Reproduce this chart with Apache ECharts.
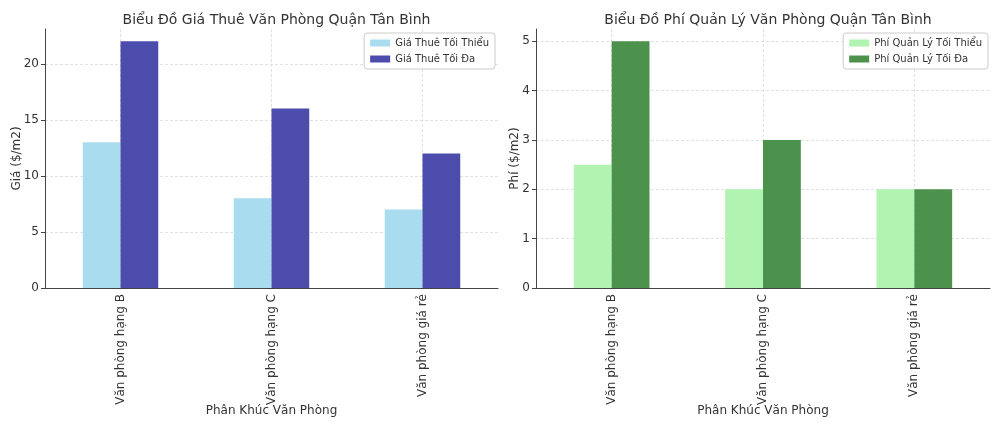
<!DOCTYPE html>
<html><head><meta charset="utf-8">
<script src="https://cdn.jsdelivr.net/npm/echarts@6/dist/echarts.min.js"></script>
<style>html,body{margin:0;padding:0;background:#fff}#c{width:1000px;height:429px}</style>
</head><body><div id="c"></div>
<script>
const categories = ['Văn phòng hạng B', 'Văn phòng hạng C', 'Văn phòng giá rẻ'];
const rentMin = [13, 8, 7];
const rentMax = [22, 16, 12];
const feeMin = [2.5, 2, 2];
const feeMax = [5, 3, 2];
const titles = ['Biểu Đồ Giá Thuê Văn Phòng Quận Tân Bình', 'Biểu Đồ Phí Quản Lý Văn Phòng Quận Tân Bình'];
const seriesNames = [['Giá Thuê Tối Thiểu', 'Giá Thuê Tối Đa'], ['Phí Quản Lý Tối Thiểu', 'Phí Quản Lý Tối Đa']];
const yNames = ['Giá ($/m2)', 'Phí ($/m2)'];
const xName = 'Phân Khúc Văn Phòng';

const F = 'DejaVu Sans';
const txt = '#333';
const grid = [
  {left: 45, right: 502, top: 29, bottom: 141},
  {left: 536, right: 10, top: 29, bottom: 141}
];
function xAx(i) {
  return {
    type: 'category', gridIndex: i, data: categories, boundaryGap: true,
    name: xName, nameLocation: 'middle', nameGap: 117, nameMoveOverlap: false,
    nameTextStyle: {fontFamily: F, fontSize: 12, color: txt},
    axisLine: {lineStyle: {color: '#444', width: 1}},
    axisTick: {alignWithLabel: true, length: 4, lineStyle: {color: '#444'}},
    axisLabel: {rotate: 90, fontFamily: F, fontSize: 12, color: txt, margin: 6},
    splitLine: {show: true, alignWithLabel: true, lineStyle: {color: '#d9d9d9', type: [3, 2], width: 0.8}}
  };
}
function yAx(i, max, interval, n) {
  const cols = [];
  for (let k = 0; k < n; k++) cols.push('#d9d9d9');
  cols.push('rgba(0,0,0,0)');
  return {
    type: 'value', gridIndex: i, min: 0, max: max, interval: interval,
    name: yNames[i], nameLocation: 'middle', nameGap: i === 0 ? 22 : 15, nameMoveOverlap: false,
    nameTextStyle: {fontFamily: F, fontSize: 12, color: txt},
    axisLine: {show: true, lineStyle: {color: '#444', width: 1}},
    axisTick: {show: true, length: 4, lineStyle: {color: '#444'}},
    axisLabel: {fontFamily: F, fontSize: 12, color: txt, margin: 6, showMaxLabel: false},
    splitLine: {show: true, lineStyle: {color: cols, type: [3, 2], width: 0.8}}
  };
}
const colors = [['#aadcf0', '#4c4cad'], ['#b1f3b1', '#4c924c']];
const data = [[rentMin, rentMax], [feeMin, feeMax]];
const series = [];
for (let i = 0; i < 2; i++) for (let j = 0; j < 2; j++) {
  series.push({
    type: 'bar', name: seriesNames[i][j], xAxisIndex: i, yAxisIndex: i,
    data: data[i][j], barWidth: '25%', barGap: '0%',
    itemStyle: {color: colors[i][j]}, z: 3
  });
}
function legend(i, right) {
  return {
    data: seriesNames[i].map(n => ({name: n, icon: 'rect'})), orient: 'vertical', right: right, top: 33,
    itemWidth: 20, itemHeight: 7, itemGap: 6,
    backgroundColor: '#fff', borderColor: '#ccc', borderWidth: 1, borderRadius: 3, padding: [5, 6, 5, 6],
    textStyle: {fontFamily: F, fontSize: 10, color: txt}
  };
}
const chart = echarts.init(document.getElementById('c'), null, {renderer: 'canvas'});
chart.setOption({
  animation: false,
  backgroundColor: '#fff',
  title: [
    {text: titles[0], left: 271.5, textAlign: 'center', top: 8, textStyle: {fontFamily: F, fontSize: 14, fontWeight: 'normal', color: txt}},
    {text: titles[1], left: 763, textAlign: 'center', top: 8, textStyle: {fontFamily: F, fontSize: 14, fontWeight: 'normal', color: txt}}
  ],
  legend: [legend(0, 505), legend(1, 12)],
  grid: grid,
  xAxis: [xAx(0), xAx(1)],
  yAxis: [yAx(0, 23.1, 5, 5), yAx(1, 5.25, 1, 6)],
  series: series
});
</script></body></html>
